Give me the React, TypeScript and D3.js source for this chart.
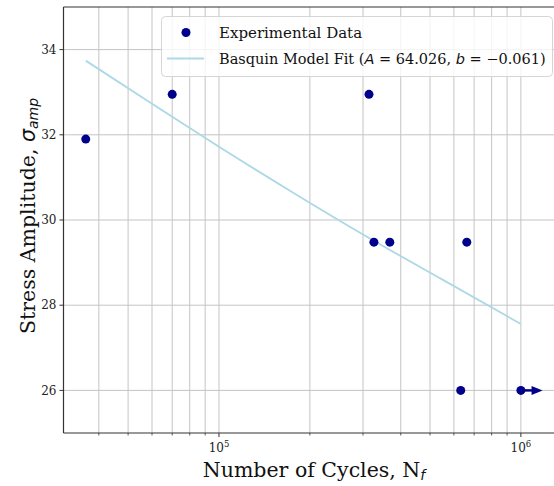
import React from 'react'
import * as d3 from 'd3'

// experimental fatigue data (cycles to failure, stress amplitude)
const cycles = [36200, 70000, 314000, 326000, 368000, 662000, 632000, 1000000]
const stress = [31.9, 32.95, 32.95, 29.48, 29.48, 29.48, 26.0, 26.0]
// runout specimens (drawn with an arrow)
const runoutCycles = [1000000]
const runoutStress = [26.0]
const runoutEnd = [1180000]

// Basquin fit
const fitCycles = [36200, 60000, 100000, 180000, 300000, 550000, 1000000]
const fitStress = [33.74, 32.73, 31.72, 30.6, 29.66, 28.6, 27.56]

const yTicks = [26, 28, 30, 32, 34]
const xMajor = [1e5, 1e6]
const xMinor = [4e4, 5e4, 6e4, 7e4, 8e4, 9e4, 2e5, 3e5, 4e5, 5e5, 6e5, 7e5, 8e5, 9e5]

const W = 554
const H = 486
const margin = { left: 63.5, top: 7, right: 565, bottom: 433 }

const serif = "'DejaVu Serif', serif"
const sans = "'DejaVu Sans', sans-serif"
const navy = '#00008b'

export default function App () {
  const x = d3.scaleLog().domain([30550, 1400000]).range([margin.left, margin.right])
  const y = d3.scaleLinear().domain([25, 35]).range([margin.bottom, margin.top])
  const fitLine = d3.line<number>()
    .x((d, i) => x(fitCycles[i]))
    .y(d => y(d))
    .curve(d3.curveMonotoneX)
  const gridColor = '#c4c4c4'
  const spine = '#333'

  return (
    <svg width={W} height={H} style={{ position: 'absolute', left: 0, top: 0, background: '#fff' }}>
      <defs>
        <clipPath id="plot">
          <rect x={margin.left} y={margin.top} width={margin.right - margin.left} height={margin.bottom - margin.top} />
        </clipPath>
      </defs>
      <g clipPath="url(#plot)">
        {[...xMinor, ...xMajor].map(v => (
          <line key={v} x1={x(v)} x2={x(v)} y1={margin.top} y2={margin.bottom} stroke={gridColor} strokeWidth={1} />
        ))}
        {yTicks.map(v => (
          <line key={v} x1={margin.left} x2={margin.right} y1={y(v)} y2={y(v)} stroke={gridColor} strokeWidth={1} />
        ))}
        <path d={fitLine(fitStress) ?? ''} fill="none" stroke="#add8e6" strokeWidth={1.8} />
        {runoutCycles.map((c, i) => {
          const x0 = x(c)
          const x1 = x(runoutEnd[i])
          const yy = y(runoutStress[i])
          return (
            <g key={c}>
              <line x1={x0} x2={x1 - 9} y1={yy} y2={yy} stroke={navy} strokeWidth={2.5} />
              <path d={`M${x1},${yy} L${x1 - 11},${yy - 4.5} L${x1 - 11},${yy + 4.5} Z`} fill={navy} />
            </g>
          )
        })}
        {cycles.map((c, i) => (
          <circle key={i} cx={x(c)} cy={y(stress[i])} r={4.5} fill={navy} />
        ))}
      </g>
      {/* spines */}
      <line x1={margin.left} x2={margin.left} y1={margin.top} y2={margin.bottom} stroke={spine} strokeWidth={1.2} />
      <line x1={margin.left} x2={margin.right} y1={margin.bottom} y2={margin.bottom} stroke={spine} strokeWidth={1.2} />
      <line x1={margin.left} x2={margin.right} y1={margin.top} y2={margin.top} stroke={spine} strokeWidth={1.2} />
      {/* y ticks */}
      {yTicks.map(v => (
        <g key={v}>
          <line x1={margin.left - 4} x2={margin.left} y1={y(v)} y2={y(v)} stroke={spine} strokeWidth={1} />
          <text x={margin.left - 7} y={y(v)} dy="0.35em" textAnchor="end" fontFamily={serif} fontSize={12} fill="#222">{v}</text>
        </g>
      ))}
      {/* x ticks */}
      {xMinor.map(v => (
        <line key={v} x1={x(v)} x2={x(v)} y1={margin.bottom} y2={margin.bottom + 2.5} stroke={spine} strokeWidth={0.8} />
      ))}
      {xMajor.map(v => (
        <g key={v}>
          <line x1={x(v)} x2={x(v)} y1={margin.bottom} y2={margin.bottom + 4} stroke={spine} strokeWidth={1} />
          <text x={x(v)} y={452} textAnchor="middle" fontFamily={serif} fontSize={12} fill="#222">
            10<tspan fontSize={8.5} dy={-5}>{Math.round(Math.log10(v))}</tspan>
          </text>
        </g>
      ))}
      {/* axis labels */}
      <text x={314} y={477} textAnchor="middle" fontFamily={serif} fontSize={20.5} fill="#111">
        Number of Cycles, N<tspan fontFamily={sans} fontStyle="italic" fontSize={14} dy={3}>f</tspan>
      </text>
      <text transform={`translate(35, ${(margin.top + margin.bottom) / 2 - 4}) rotate(-90)`} textAnchor="middle"
        fontFamily={serif} fontSize={20.5} fill="#111">
        Stress Amplitude, <tspan fontFamily={sans} fontStyle="italic">σ</tspan>
        <tspan fontFamily={sans} fontStyle="italic" fontSize={14} dy={3}>amp</tspan>
      </text>
      {/* legend */}
      <g>
        <rect x={161.5} y={16.5} width={391} height={60} rx={4} fill="#fff" fillOpacity={0.8} stroke="#d5d5d5" />
        <circle cx={186} cy={32.5} r={4.5} fill={navy} />
        <text x={219} y={37.5} fontFamily={serif} fontSize={15} fill="#111">Experimental Data</text>
        <line x1={167} x2={204} y1={58.5} y2={58.5} stroke="#add8e6" strokeWidth={1.8} />
        <text x={219} y={63.5} fontFamily={serif} fontSize={14.5} fill="#111">
          Basquin Model Fit (<tspan fontFamily={sans} fontStyle="italic">A</tspan> = 64.026, <tspan fontFamily={sans} fontStyle="italic">b</tspan> = −0.061)
        </text>
      </g>
    </svg>
  )
}
